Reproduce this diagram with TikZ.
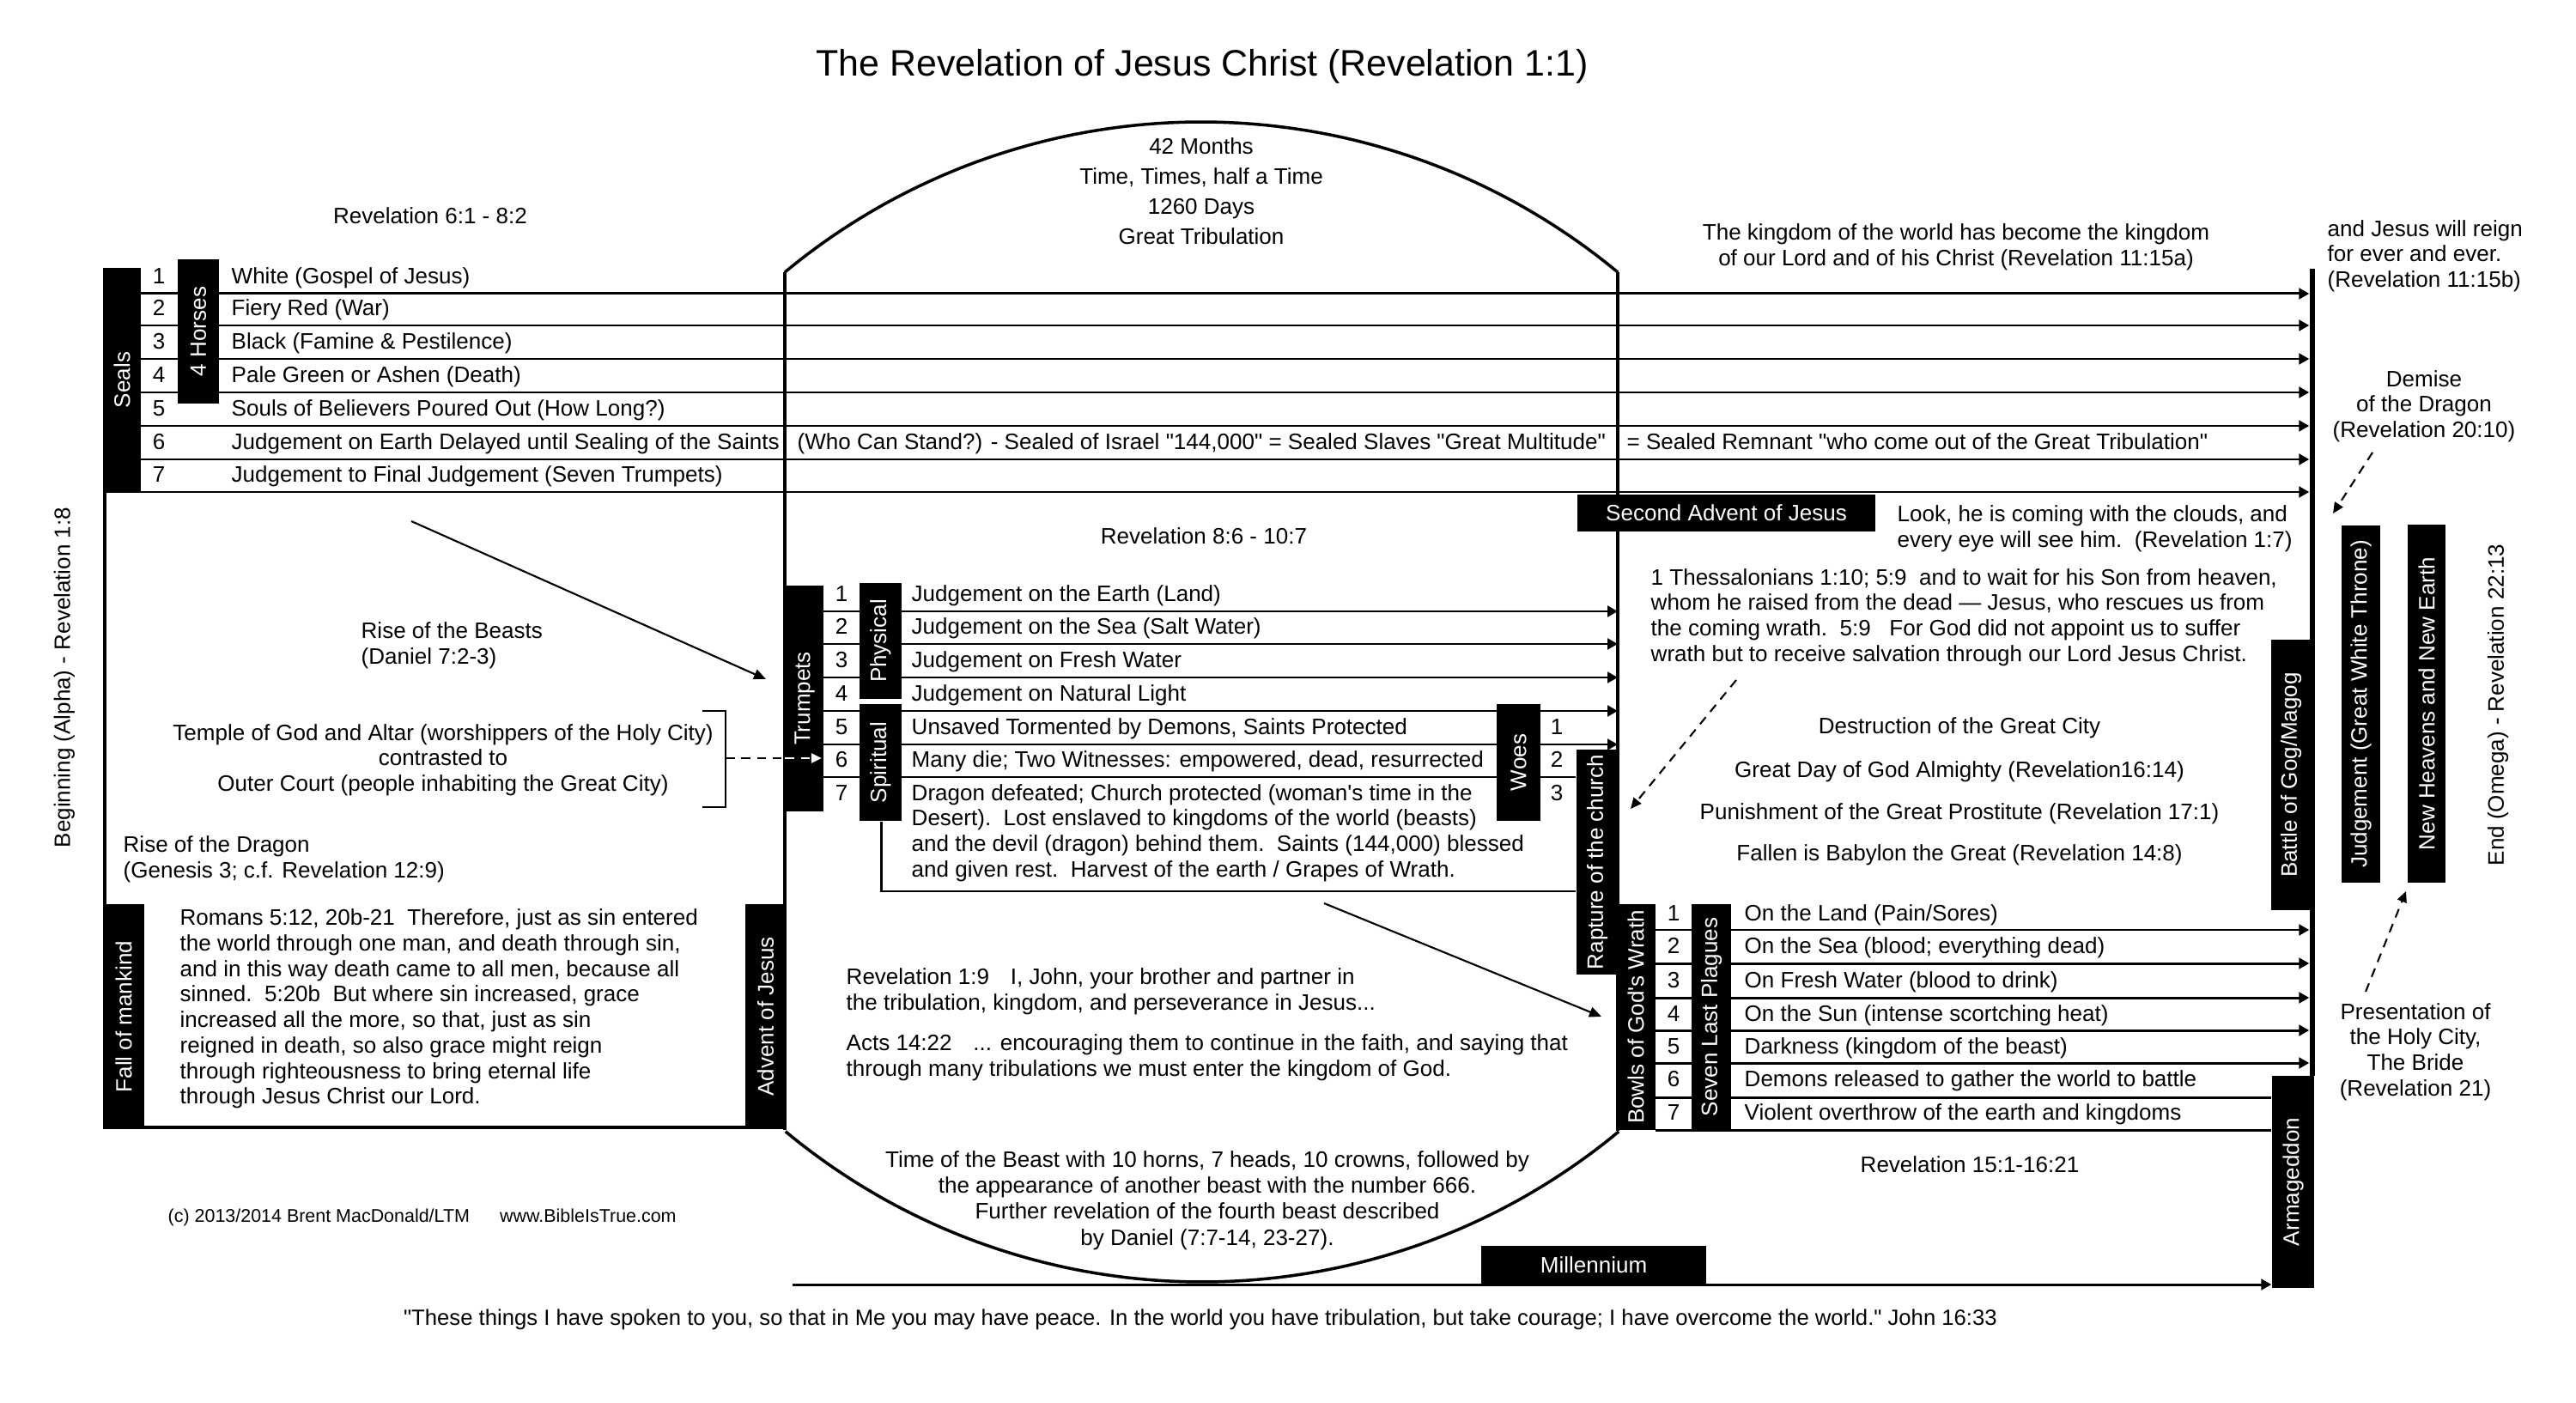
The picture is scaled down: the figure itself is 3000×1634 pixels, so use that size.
\documentclass[tikz,border=0pt]{standalone}
\usepackage{fontspec}
\setmainfont{Liberation Sans}
\newfontfamily\pq{Liberation Sans}
\newcommand\dq{{\pq"}}
\newcommand\ap{{\pq'}}
\usetikzlibrary{fit,arrows.meta}
\pgfdeclarelayer{back}
\pgfdeclarelayer{lines}
\pgfsetlayers{back,lines,main}
\newcommand\bodyf{\fontsize{7.4}{8.45}\selectfont}
\newcommand\smallf{\fontsize{6.1}{7.2}\selectfont}
\newcommand\titlef{\fontsize{12.2}{14}\selectfont}
\newcommand\blkv[6]{\node[blk,fit={(#2,#3)(#4,#5)}] (#1) {};\node[wl,rotate=90] (#1-l) at (#1.center) {#6};}
\newcommand\blkh[6]{\node[blk,fit={(#2,#3)(#4,#5)}] (#1) {};\node[wl] (#1-l) at (#1.center) {#6};}
\begin{document}
\begin{tikzpicture}[x=0.01cm,y=-0.01cm,
 txt/.style={inner sep=0pt,font=\bodyf},
 one/.style={txt,text height=6pt,text depth=1.5pt},
 blk/.style={fill=black,draw=none,inner sep=0pt},
 wl/.style={inner sep=0pt,text=white,font=\bodyf},
 rowline/.style={line width=0.85pt},
 arr/.style={line width=0.85pt,-{Triangle[length=3.4pt,width=3.6pt]}},
 thinarr/.style={line width=0.6pt,-{Triangle[length=4pt,width=3.4pt]}},
 dasharr/.style={line width=0.6pt,dash pattern=on 3pt off 2.3pt,-{Triangle[length=3.6pt,width=3.2pt]}},
 domeline/.style={line width=1pt}]
\begin{pgfonlayer}{back}
\fill[white] (0,0) rectangle (3000,1634);
\end{pgfonlayer}
\useasboundingbox (0,0) rectangle (3000,1634);

% ---------- black bars ----------
\blkv{seals}{120}{312}{164}{573}{Seals}
\blkv{horses}{207}{302}{255}{470}{4 Horses}
\blkv{fall}{120}{1053}{168}{1315}{Fall of mankind}
\blkv{advent}{868}{1053}{915}{1315}{Advent of Jesus}
\blkv{trumpets}{915}{682}{959}{945}{Trumpets}
\blkv{physical}{1001}{679}{1050}{814}{Physical}
\blkv{spiritual}{1001}{820}{1050}{956}{Spiritual}
\blkv{woes}{1743}{820}{1794}{956}{Woes}
\blkv{rapture}{1836}{873}{1884}{1135}{Rapture of the church}
\blkv{bowls}{1882}{1053}{1928}{1316}{Bowls of God\ap s Wrath}
\blkv{plagues}{1970}{1053}{2016}{1316}{Seven Last Plagues}
\blkv{gog}{2645}{745}{2691}{1060}{Battle of Gog/Magog}
\blkv{judg}{2727}{612}{2772}{1028}{Judgement (Great White Throne)}
\blkv{newhe}{2804}{611}{2848}{1028}{New Heavens and New Earth}
\blkv{armag}{2646}{1253}{2695}{1500}{Armageddon}
\blkh{advent2}{1837}{576}{2184}{619}{Second Advent of Jesus}
\blkh{millen}{1725}{1451}{1987}{1495}{Millennium}
\node[blk,fit={(2690,313)(2696,1253)}] (endbar) {};

\coordinate (domeL) at (914,317);
\coordinate (domeR) at (1884,317);

% ---------- lines ----------
\begin{pgfonlayer}{lines}
\foreach \i/\y in {1/342,2/379,3/418,4/457,5/496,6/535}{\coordinate (sl\i) at (164,\y); \draw[arr] (sl\i) -- (sl\i -| endbar.west);}
\coordinate (sl7) at (120,573); \draw[arr] (sl7) -- (sl7 -| endbar.west);
\foreach \i/\y in {1/712,2/750,3/789,4/828,5/867}{\coordinate (tl\i) at (959,\y); \draw[arr] (tl\i) -- (tl\i -| domeR);}
\coordinate (tl6) at (959,905); \draw[rowline] (tl6) -- (tl6 -| rapture.west);
\coordinate (t7c) at (1026,1038); \draw[rowline] (spiritual.south -| t7c) -- (t7c) -- (t7c -| rapture.west);
\foreach \i/\y in {1/1083,2/1122,3/1162,4/1200,5/1238}{\coordinate (bl\i) at (1928,\y); \draw[arr] (bl\i) -- (bl\i -| endbar.west);}
\foreach \i/\y in {6/1278,7/1316}{\coordinate (bl\i) at (1928,\y); \draw[rowline] (bl\i) -- (bl\i -| armag.west);}
\coordinate (mil) at (923,1496); \draw[arr] (mil) -- (mil -| armag.west);
% dome
\draw[domeline] plot[domain=129.7:50.3,samples=90] ({1399+759.6*cos(\x)},{901.6-759.6*sin(\x)});
\draw[domeline] (domeL) -- (914,1316);
\draw[domeline] (domeR) -- (1884,1317);
\draw[domeline] plot[domain=129.7:50.3,samples=90] ({1400+759.6*cos(\x)},{733.4+759.6*sin(\x)});
% left box
\coordinate (boxBL) at (122,1313);
\draw[line width=1.1pt] (122,573) -- (boxBL) -- (boxBL -| domeL);
\end{pgfonlayer}

% ---------- texts ----------
\node[font=\titlef,inner sep=0pt] (title) at (1400,77) {The Revelation of Jesus Christ (Revelation 1:1)};
\node[one] (dm1) at (1399,172) {42 Months};
\node[one] (dm2) at (1399,207) {Time, Times, half a Time};
\node[one] (dm3) at (1399,242) {1260 Days};
\node[one] (dm4) at (1399,277) {Great Tribulation};
\node[one] (rev61) at (501,253) {Revelation 6:1 - 8:2};
\node[txt,align=center] (kingdom) at (2278,288) {The kingdom of the world has become the kingdom\\of our Lord and of his Christ (Revelation 11:15a)};
\node[txt,align=left,anchor=west] (reign) at (2710,298) {and Jesus will reign\\for ever and ever.\\(Revelation 11:15b)};
\node[txt,align=center] (demise) at (2823,473) {Demise\\of the Dragon\\(Revelation 20:10)};

% seals rows
\foreach \i/\y in {1/342,2/379,3/418,4/457,5/496,6/535,7/573}{\node[one] (sn\i) at (185,\y-19) {\i};}
\node[one,anchor=west] (st1) at (269,323) {White (Gospel of Jesus)};
\node[one,anchor=west] (st2) at (269,360) {Fiery Red (War)};
\node[one,anchor=west] (st3) at (269,399) {Black (Famine \& Pestilence)};
\node[one,anchor=west] (st4) at (269,438) {Pale Green or Ashen (Death)};
\node[one,anchor=west] (st5) at (269,477) {Souls of Believers Poured Out (How Long?)};
\node[one,anchor=west] (st6) at (269,516) {Judgement on Earth Delayed until Sealing of the Saints};
\node[one,anchor=west] (st6b) at (928,516) {(Who Can Stand?) - Sealed of Israel \dq 144,000\dq\ = Sealed Slaves \dq Great Multitude\dq};
\node[one,anchor=west] (st6c) at (1894,516) {= Sealed Remnant \dq who come out of the Great Tribulation\dq};
\node[one,anchor=west] (st7) at (269,554) {Judgement to Final Judgement (Seven Trumpets)};

\node[one] (rev86) at (1402,626) {Revelation 8:6 - 10:7};
\node[txt,align=left,anchor=west] (look) at (2209,616) {Look, he is coming with the clouds, and\\every eye will see him.\ \ (Revelation 1:7)};
\node[txt,align=left,anchor=west] (thess) at (1922,719) {1 Thessalonians 1:10; 5:9\ \ and to wait for his Son from heaven,\\whom he raised from the dead --- Jesus, who rescues us from\\the coming wrath.\ \ 5:9\ \ \ For God did not appoint us to suffer\\wrath but to receive salvation through our Lord Jesus Christ.};
\node[one] (dest1) at (2282,847) {Destruction of the Great City};
\node[one] (dest2) at (2282,898) {Great Day of God Almighty (Revelation16:14)};
\node[one] (dest3) at (2282,947) {Punishment of the Great Prostitute (Revelation 17:1)};
\node[one] (dest4) at (2282,995) {Fallen is Babylon the Great (Revelation 14:8)};

% trumpets rows
\foreach \i/\y in {1/693,2/731,3/770,4/809,5/848,6/886,7/925}{\node[one] (tn\i) at (980,\y) {\i};}
\node[one,anchor=west] (tt1) at (1061,693) {Judgement on the Earth (Land)};
\node[one,anchor=west] (tt2) at (1061,731) {Judgement on the Sea (Salt Water)};
\node[one,anchor=west] (tt3) at (1061,770) {Judgement on Fresh Water};
\node[one,anchor=west] (tt4) at (1061,809) {Judgement on Natural Light};
\node[one,anchor=west] (tt5) at (1061,848) {Unsaved Tormented by Demons, Saints Protected};
\node[one,anchor=west] (tt6) at (1061,886) {Many die; Two Witnesses: empowered, dead, resurrected};
\node[txt,align=left,anchor=west] (tt7) at (1061,970) {Dragon defeated; Church protected (woman\ap s time in the\\Desert).\ \ Lost enslaved to kingdoms of the world (beasts)\\and the devil (dragon) behind them.\ \ Saints (144,000) blessed\\and given rest.\ \ Harvest of the earth / Grapes of Wrath.};
\node[one] (wn1) at (1813,848) {1};
\node[one] (wn2) at (1813,886) {2};
\node[one] (wn3) at (1813,925) {3};

% left area
\node[txt,align=left,anchor=west] (beasts) at (420,752) {Rise of the Beasts\\(Daniel 7:2-3)};
\node[txt,align=center] (temple) at (516,885) {Temple of God and Altar (worshippers of the Holy City)\\contrasted to\\Outer Court (people inhabiting the Great City)};
\node[txt,align=left,anchor=west] (dragon) at (143,1001) {Rise of the Dragon\\(Genesis 3; c.f. Revelation 12:9)};
\node[txt,align=left,anchor=west] (romans) at (209,1175) {Romans 5:12, 20b-21\ \ Therefore, just as sin entered\\the world through one man, and death through sin,\\and in this way death came to all men, because all\\sinned.\ \ 5:20b\ \ But where sin increased, grace\\increased all the more, so that, just as sin\\reigned in death, so also grace might reign\\through righteousness to bring eternal life\\through Jesus Christ our Lord.};
\node[inner sep=0pt,font=\smallf,anchor=west] (copy) at (195,1418) {(c) 2013/2014 Brent MacDonald/LTM\hspace*{10pt}www.BibleIsTrue.com};
\node[txt,rotate=90] (alpha) at (75,789) {Beginning (Alpha) - Revelation 1:8};
\node[txt,rotate=90] (omega) at (2909,821) {End (Omega) - Revelation 22:13};

% bottom centre
\node[txt,align=left,anchor=west] (rev19) at (985,1155) {Revelation 1:9\hspace*{5pt} I, John, your brother and partner in\\the tribulation, kingdom, and perseverance in Jesus...};
\node[txt,align=left,anchor=west] (acts) at (985,1232) {Acts 14:22\hspace*{5pt} ... encouraging them to continue in the faith, and saying that\\through many tribulations we must enter the kingdom of God.};
\node[txt,align=center,font=\fontsize{7.4}{8.65}\selectfont] (beast) at (1406,1398) {Time of the Beast with 10 horns, 7 heads, 10 crowns, followed by\\the appearance of another beast with the number 666.\\Further revelation of the fourth beast described\\by Daniel (7:7-14, 23-27).};

% bowls rows
\foreach \i/\y in {1/1065,2/1103,3/1143,4/1182,5/1220,6/1258,7/1297}{\node[one] (bn\i) at (1949,\y) {\i};}
\node[one,anchor=west] (bt1) at (2031,1065) {On the Land (Pain/Sores)};
\node[one,anchor=west] (bt2) at (2031,1103) {On the Sea (blood; everything dead)};
\node[one,anchor=west] (bt3) at (2031,1143) {On Fresh Water (blood to drink)};
\node[one,anchor=west] (bt4) at (2031,1182) {On the Sun (intense scortching heat)};
\node[one,anchor=west] (bt5) at (2031,1220) {Darkness (kingdom of the beast)};
\node[one,anchor=west] (bt6) at (2031,1258) {Demons released to gather the world to battle};
\node[one,anchor=west] (bt7) at (2031,1297) {Violent overthrow of the earth and kingdoms};
\node[one] (rev151) at (2294,1358) {Revelation 15:1-16:21};
\node[txt,align=center] (present) at (2813,1225) {Presentation of\\the Holy City,\\The Bride\\(Revelation 21)};

\node[one,font=\fontsize{7.3}{8.4}\selectfont] (quote) at (1398,1536) {\dq These things I have spoken to you, so that in Me you may have peace. In the world you have tribulation, but take courage; I have overcome the world.\dq\ John 16:33};

% ---------- connectors ----------
\coordinate (a1s) at (479,607); \coordinate (a1e) at (892,791);
\draw[thinarr] (a1s) -- (a1e);
\coordinate (a2s) at (1542,1052); \coordinate (a2e) at (1865,1184);
\draw[thinarr] (a2s) -- (a2e);
% bracket and dashed arrow to trumpet 6
\coordinate (brT) at (845,828); \coordinate (brB) at (845,940); \coordinate (brk) at (845,883);
\draw[line width=0.6pt] ([xshift=-0.27cm]brT) -- (brT) -- (brB) -- ([xshift=-0.27cm]brB);
\draw[line width=0.7pt,dash pattern=on 3pt off 2.2pt] (brk) -- (brk -| trumpets.west);
\draw[line width=0.7pt,white,dash pattern=on 3pt off 2.2pt,-{Triangle[length=3.4pt,width=3.2pt]}] (brk -| trumpets.west) -- ([xshift=-0.03cm]brk -| trumpets.east);
% dashed arrows
\coordinate (d1s) at (2022,792); \coordinate (d1e) at (1899,942);
\draw[dasharr] (d1s) -- (d1e);
\coordinate (d2s) at (2763,527); \coordinate (d2e) at (2717,598);
\draw[dasharr] (d2s) -- (d2e);
\coordinate (d3s) at (2755,1155); \coordinate (d3e) at (2802,1038);
\draw[dasharr] (d3s) -- (d3e);
\end{tikzpicture}
\end{document}
